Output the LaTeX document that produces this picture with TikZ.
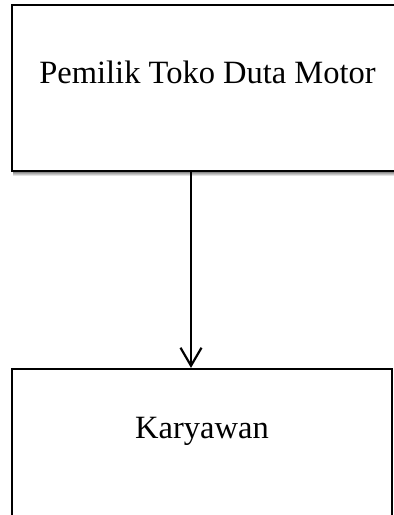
\documentclass[tikz,border=0pt]{standalone}
\usepackage{fontspec}
\setmainfont{Liberation Serif}
\usetikzlibrary{arrows.meta}
\begin{document}
\begin{tikzpicture}[x=1pt,y=1pt,
  boxstyle/.style={draw=black,line width=2.2pt,fill=white,inner sep=0pt},
  labelstyle/.style={font=\fontsize{32.5}{38}\selectfont,inner sep=0pt,anchor=base},
  conn/.style={line width=2.2pt,-{Straight Barb[length=18pt,width=21pt,line width=2.2pt]}}]
\useasboundingbox (0,0) rectangle (394,-515);
% shadow under top box
\shade[top color=black!45,bottom color=white] (13,-172) rectangle (400,-176);
\node[boxstyle,minimum width=388pt,minimum height=166pt] (top) at (206,-88) {};
\node[boxstyle,minimum width=380pt,minimum height=150pt] (bot) at (202,-444) {};
\node[labelstyle] (toplabel) at (207.5,-83) {Pemilik Toko Duta Motor};
\node[labelstyle] (botlabel) at (202,-438) {Karyawan};
\coordinate (ax) at (191,0);
\draw[conn] (top.south -| ax) -- (bot.north -| ax);
\end{tikzpicture}
\end{document}
